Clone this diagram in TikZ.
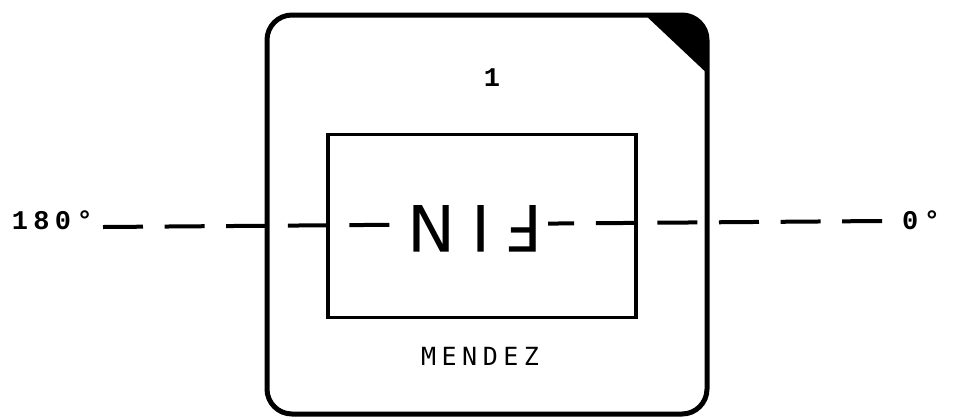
\documentclass[tikz,border=0pt]{standalone}
\usepackage{fontspec}
\usepackage{tikz}
\usetikzlibrary{calc}
\newfontfamily\typefont[LetterSpace=20]{Liberation Mono}
\newfontfamily\plotfont[LetterSpace=22]{DejaVu Sans Mono}
\newfontfamily\winfont[LetterSpace=24]{DejaVu Sans}

\begin{document}
\begin{tikzpicture}[
  x=1pt, y=-1pt,
  mount/.style={rectangle, rounded corners=25pt, draw=black, line width=5pt,
                minimum width=440pt, minimum height=399pt, inner sep=0pt, outer sep=0pt},
  window/.style={rectangle, draw=black, line width=3.5pt, minimum width=308pt,
                 minimum height=183pt, inner sep=0pt, outer sep=0pt},
  axis/.style={line width=4pt, dash pattern=on 40pt off 21.6pt},
  deg/.style={font=\typefont\bfseries\fontsize{27}{27}\selectfont, inner sep=0pt},
  title/.style={font=\plotfont\fontsize{25}{25}\selectfont, inner sep=0pt},
  mirror/.style={font=\winfont\fontsize{64}{64}\selectfont, rotate=180, fill=white,
                 inner xsep=6pt, inner ysep=0pt},
]
\useasboundingbox (0,0) rectangle (957,416);

\node[mount]  (mount)  at (487,214.5) {};
\node[window] (window) at (482,226) {};

% corner mark
\begin{scope}
  \clip[rounded corners=25pt] (mount.south west) rectangle (mount.north east);
  \fill ($(mount.north east)+(-64,-2)$) -- ($(mount.north east)+(5,-2)$)
        -- ($(mount.north east)+(5,63)$) -- cycle;
\end{scope}

\node[deg]   (num)  at (492,78)  {1};
\node[title] (name) at (480,356) {MENDEZ};

\node[deg, anchor=east] (deg180) at (93,220)  {180°};
\node[deg, anchor=west] (deg0)   at (902,220) {0°};

\draw[axis] ([xshift=10pt,yshift=-7pt]deg180.east) -- ([xshift=-20pt,yshift=-1pt]deg0.west);

\node[mirror] (fin) at (475,229) {FIN};

\end{tikzpicture}
\end{document}
